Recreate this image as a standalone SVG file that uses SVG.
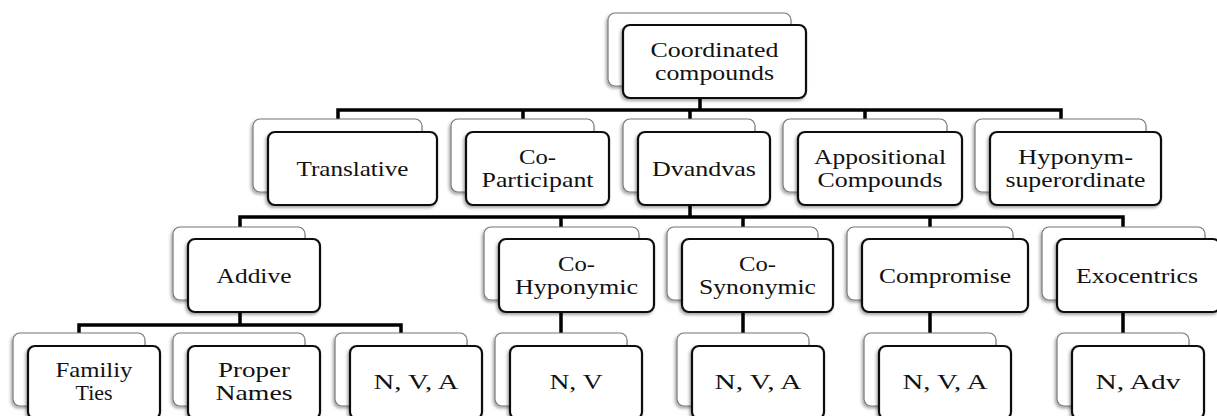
<svg xmlns="http://www.w3.org/2000/svg" width="1217" height="416" viewBox="0 0 1217 416" font-family="Liberation Serif, Times New Roman, DejaVu Serif, serif">
<style>
.bk{fill:#fff;stroke:#777;stroke-width:1.2;filter:url(#sh)}
.fr{fill:#fff;stroke:#111;stroke-width:2.2;filter:url(#sh)}
.t{font-size:21px;fill:#111;text-anchor:middle}
.c{fill:none;stroke:#000;stroke-width:3.5;stroke-linejoin:miter;stroke-linecap:square}
</style>
<defs>
<filter id="sh" x="-10%" y="-10%" width="120%" height="130%">
<feDropShadow dx="-1.5" dy="2" stdDeviation="1.5" flood-color="#000" flood-opacity="0.35"/>
</filter>
</defs>
<rect width="1217" height="416" fill="#fff"/>
<g id="connectors">
<path class="c" d="M700,98 V110 M338,119 V110 H1061 V119 M523,110 V119 M690,110 V119 M865,110 V119"/>
<path class="c" d="M690,205 V217 M240,227 V217 H1123 V227 M561,217 V227 M743,217 V227 M930,217 V227"/>
<path class="c" d="M240,312 V325 M79,333 V325 H401 V333"/>
<path class="c" d="M561,312 V333 M743,312 V333 M930,312 V333 M1123,312 V333"/>
</g>
<g id="n-coordinated">
<rect class="bk" x="608" y="13" width="183" height="73" rx="7"/>
<rect class="fr" x="623" y="25" width="183" height="73" rx="7"/>
<text class="t" x="714.5" y="57" textLength="128" lengthAdjust="spacingAndGlyphs">Coordinated</text>
<text class="t" x="714.5" y="80" textLength="119" lengthAdjust="spacingAndGlyphs">compounds</text>
</g>
<g id="n-translative">
<rect class="bk" x="253" y="119" width="169" height="73" rx="7"/>
<rect class="fr" x="268" y="132" width="169" height="73" rx="7"/>
<text class="t" x="352.5" y="176" textLength="112" lengthAdjust="spacingAndGlyphs">Translative</text>
</g>
<g id="n-coparticipant">
<rect class="bk" x="451" y="119" width="143" height="73" rx="7"/>
<rect class="fr" x="466" y="132" width="143" height="73" rx="7"/>
<text class="t" x="537.5" y="164" textLength="37" lengthAdjust="spacingAndGlyphs">Co-</text>
<text class="t" x="537.5" y="187" textLength="112" lengthAdjust="spacingAndGlyphs">Participant</text>
</g>
<g id="n-dvandvas">
<rect class="bk" x="623" y="119" width="132" height="73" rx="7"/>
<rect class="fr" x="638" y="132" width="132" height="73" rx="7"/>
<text class="t" x="704" y="176" textLength="104" lengthAdjust="spacingAndGlyphs">Dvandvas</text>
</g>
<g id="n-appositional">
<rect class="bk" x="783" y="119" width="164" height="73" rx="7"/>
<rect class="fr" x="798" y="132" width="164" height="73" rx="7"/>
<text class="t" x="880" y="164" textLength="132" lengthAdjust="spacingAndGlyphs">Appositional</text>
<text class="t" x="880" y="187" textLength="125" lengthAdjust="spacingAndGlyphs">Compounds</text>
</g>
<g id="n-hyponym">
<rect class="bk" x="975" y="119" width="171" height="73" rx="7"/>
<rect class="fr" x="990" y="132" width="171" height="73" rx="7"/>
<text class="t" x="1075.5" y="164" textLength="115" lengthAdjust="spacingAndGlyphs">Hyponym-</text>
<text class="t" x="1075.5" y="187" textLength="140" lengthAdjust="spacingAndGlyphs">superordinate</text>
</g>
<g id="n-addive">
<rect class="bk" x="173" y="227" width="132" height="73" rx="7"/>
<rect class="fr" x="188" y="239" width="132" height="73" rx="7"/>
<text class="t" x="254" y="283" textLength="75" lengthAdjust="spacingAndGlyphs">Addive</text>
</g>
<g id="n-cohyponymic">
<rect class="bk" x="484" y="227" width="155" height="73" rx="7"/>
<rect class="fr" x="499" y="239" width="155" height="73" rx="7"/>
<text class="t" x="576.5" y="271" textLength="37" lengthAdjust="spacingAndGlyphs">Co-</text>
<text class="t" x="576.5" y="294" textLength="123" lengthAdjust="spacingAndGlyphs">Hyponymic</text>
</g>
<g id="n-cosynonymic">
<rect class="bk" x="667" y="227" width="151" height="73" rx="7"/>
<rect class="fr" x="682" y="239" width="151" height="73" rx="7"/>
<text class="t" x="757.5" y="271" textLength="37" lengthAdjust="spacingAndGlyphs">Co-</text>
<text class="t" x="757.5" y="294" textLength="117" lengthAdjust="spacingAndGlyphs">Synonymic</text>
</g>
<g id="n-compromise">
<rect class="bk" x="847" y="227" width="166" height="73" rx="7"/>
<rect class="fr" x="862" y="239" width="166" height="73" rx="7"/>
<text class="t" x="945" y="283" textLength="132" lengthAdjust="spacingAndGlyphs">Compromise</text>
</g>
<g id="n-exocentrics">
<rect class="bk" x="1042" y="227" width="163" height="73" rx="7"/>
<rect class="fr" x="1057" y="239" width="163" height="73" rx="7"/>
<text class="t" x="1137" y="283" textLength="122" lengthAdjust="spacingAndGlyphs">Exocentrics</text>
</g>
<g id="n-familiy">
<rect class="bk" x="13" y="333" width="132" height="73" rx="7"/>
<rect class="fr" x="28" y="346" width="132" height="73" rx="7"/>
<text class="t" x="94" y="377" textLength="77" lengthAdjust="spacingAndGlyphs">Familiy</text>
<text class="t" x="94" y="400" textLength="37" lengthAdjust="spacingAndGlyphs">Ties</text>
</g>
<g id="n-proper">
<rect class="bk" x="173" y="333" width="132" height="73" rx="7"/>
<rect class="fr" x="188" y="346" width="132" height="73" rx="7"/>
<text class="t" x="254" y="377" textLength="72" lengthAdjust="spacingAndGlyphs">Proper</text>
<text class="t" x="254" y="400" textLength="77" lengthAdjust="spacingAndGlyphs">Names</text>
</g>
<g id="n-nva1">
<rect class="bk" x="335" y="333" width="132" height="73" rx="7"/>
<rect class="fr" x="350" y="346" width="132" height="73" rx="7"/>
<text class="t" x="416" y="389" textLength="85" lengthAdjust="spacingAndGlyphs">N, V, A</text>
</g>
<g id="n-nv">
<rect class="bk" x="495" y="333" width="132" height="73" rx="7"/>
<rect class="fr" x="510" y="346" width="132" height="73" rx="7"/>
<text class="t" x="576" y="389" textLength="53" lengthAdjust="spacingAndGlyphs">N, V</text>
</g>
<g id="n-nva2">
<rect class="bk" x="677" y="333" width="132" height="73" rx="7"/>
<rect class="fr" x="692" y="346" width="132" height="73" rx="7"/>
<text class="t" x="758" y="389" textLength="87" lengthAdjust="spacingAndGlyphs">N, V, A</text>
</g>
<g id="n-nva3">
<rect class="bk" x="864" y="333" width="132" height="73" rx="7"/>
<rect class="fr" x="879" y="346" width="132" height="73" rx="7"/>
<text class="t" x="945" y="389" textLength="85" lengthAdjust="spacingAndGlyphs">N, V, A</text>
</g>
<g id="n-nadv">
<rect class="bk" x="1057" y="333" width="132" height="73" rx="7"/>
<rect class="fr" x="1072" y="346" width="132" height="73" rx="7"/>
<text class="t" x="1138" y="389" textLength="85" lengthAdjust="spacingAndGlyphs">N, Adv</text>
</g>
</svg>
